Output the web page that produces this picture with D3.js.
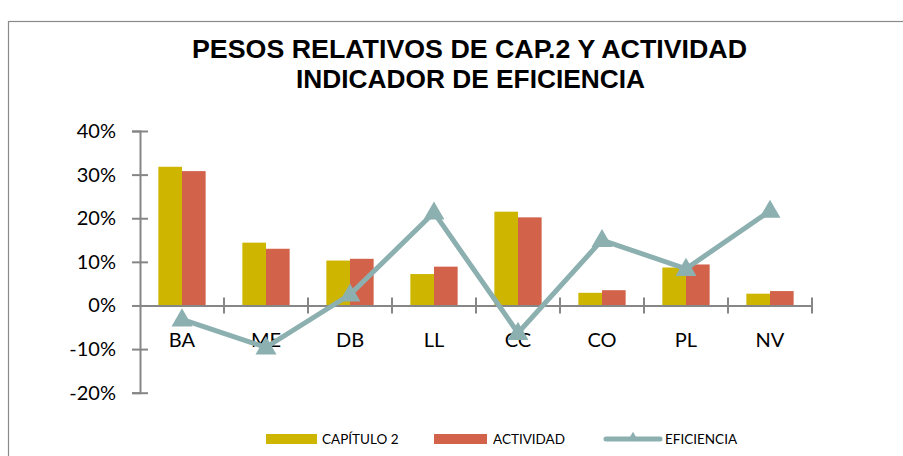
<!DOCTYPE html>
<html><head><meta charset="utf-8">
<script src="https://cdn.jsdelivr.net/npm/d3@7/dist/d3.min.js"></script>
<style>body{margin:0;background:#fff}svg{display:block}</style>
</head><body>
<svg id="c" width="903" height="456"></svg>
<script>
const categories = ["BA","ME","DB","LL","CC","CO","PL","NV"];
const capitulo2 = [0.318,0.144,0.103,0.072,0.215,0.029,0.087,0.027];
const actividad = [0.308,0.130,0.107,0.089,0.202,0.035,0.094,0.033];
const eficiencia = [-0.032,-0.096,0.025,0.213,-0.063,0.150,0.084,0.217];
const yTicks = [-0.2,-0.1,0,0.1,0.2,0.3,0.4];
const yTickLabels = ["-20%","-10%","0%","10%","20%","30%","40%"];
const seriesNames = ["CAPÍTULO 2","ACTIVIDAD","EFICIENCIA"];
const titleLines = ["PESOS RELATIVOS DE CAP.2 Y ACTIVIDAD","INDICADOR DE EFICIENCIA"];
const colors = {cap:"#CDB500", act:"#D2634A", efi:"#8CAFB0", axis:"#868686"};

const svg = d3.select("#c");
svg.append("rect").attr("x",8.5).attr("y",21.5).attr("width",1000).attr("height",1000)
  .attr("fill","none").attr("stroke","#8a8a8a").attr("stroke-width",1.2);

const title = svg.append("g")
  .attr("font-family","Liberation Sans, Arial, sans-serif").attr("font-weight","bold")
  .attr("font-size",25.5).attr("fill","#000");
title.append("text").attr("x",192).attr("y",57.5).attr("textLength",555).attr("lengthAdjust","spacingAndGlyphs").text(titleLines[0]);
title.append("text").attr("x",296).attr("y",88).attr("textLength",349).attr("lengthAdjust","spacingAndGlyphs").text(titleLines[1]);

const x0 = 140, x1 = 812;
const y = d3.scaleLinear().domain([-0.2,0.4]).range([392.7,131]);
const x = d3.scaleBand().domain(categories).range([x0,x1]).paddingInner(0.437).paddingOuter(0.2185);
const xs = d3.scaleBand().domain(["cap","act"]).range([0,x.bandwidth()]);
const xc = d3.scaleBand().domain(categories).range([x0,x1]);

// bars
const g = svg.append("g");
g.selectAll(".b1").data(categories).join("rect")
  .attr("x",d=>x(d)+xs("cap")).attr("width",xs.bandwidth())
  .attr("y",(d,i)=>y(Math.max(0,capitulo2[i]))).attr("height",(d,i)=>Math.abs(y(capitulo2[i])-y(0)))
  .attr("fill",colors.cap);
g.selectAll(".b2").data(categories).join("rect")
  .attr("x",d=>x(d)+xs("act")).attr("width",xs.bandwidth())
  .attr("y",(d,i)=>y(Math.max(0,actividad[i]))).attr("height",(d,i)=>Math.abs(y(actividad[i])-y(0)))
  .attr("fill",colors.act);

// y axis
const yAxis = d3.axisLeft(y).tickValues(yTicks).tickFormat((d,i)=>yTickLabels[i]).tickSize(8);
const ya = svg.append("g").attr("transform",`translate(${x0},0)`).call(yAxis);
ya.select(".domain").attr("stroke",colors.axis).attr("stroke-width",2);
ya.selectAll(".tick line").attr("stroke",colors.axis).attr("stroke-width",2).attr("x2",8).attr("x1",-8);
ya.selectAll(".tick text").attr("font-family","Lato, Carlito, sans-serif").attr("font-size",20).attr("fill","#000").attr("x",-24);

// x axis
const xAxis = d3.axisBottom(xc).tickSize(0).tickPadding(0);
const xa = svg.append("g").attr("transform",`translate(0,${y(0)})`).call(xAxis);
xa.select(".domain").attr("stroke",colors.axis).attr("stroke-width",2);
xa.selectAll(".tick text").attr("font-family","Lato, Carlito, sans-serif").attr("font-size",20).attr("fill","#000").attr("dy","0").attr("y",42);
const boundaries = categories.map(c=>xc(c)+xc.bandwidth());
xa.selectAll(".bt").data(boundaries).join("line")
  .attr("x1",d=>d).attr("x2",d=>d).attr("y1",-8).attr("y2",8)
  .attr("stroke",colors.axis).attr("stroke-width",2);

// line
const line = d3.line().x((d,i)=>xc(categories[i])+xc.bandwidth()/2).y(d=>y(d));
svg.append("path").datum(eficiencia).attr("d",line).attr("fill","none")
  .attr("stroke",colors.efi).attr("stroke-width",5).attr("stroke-linejoin","miter");
const tri = d3.symbol().type(d3.symbolTriangle).size(190);
svg.selectAll(".m").data(eficiencia).join("path")
  .attr("transform",(d,i)=>`translate(${xc(categories[i])+xc.bandwidth()/2},${y(d)+1})`)
  .attr("d",tri).attr("fill",colors.efi);

// legend
const lg = svg.append("g").attr("font-family","Lato, Carlito, sans-serif").attr("font-size",13.5).attr("fill","#000");
lg.append("rect").attr("x",266).attr("y",434).attr("width",51).attr("height",10).attr("fill",colors.cap);
lg.append("text").attr("x",322).attr("y",444).text(seriesNames[0]);
lg.append("rect").attr("x",434).attr("y",434).attr("width",53).attr("height",10).attr("fill",colors.act);
lg.append("text").attr("x",493).attr("y",444).text(seriesNames[1]);
lg.append("line").attr("x1",606).attr("x2",660).attr("y1",439).attr("y2",439).attr("stroke",colors.efi).attr("stroke-width",5).attr("stroke-linecap","round");
lg.append("path").attr("transform","translate(633,438)").attr("d",d3.symbol().type(d3.symbolTriangle).size(50)()).attr("fill",colors.efi);
lg.append("text").attr("x",665).attr("y",444).text(seriesNames[2]);
</script>
</body></html>
